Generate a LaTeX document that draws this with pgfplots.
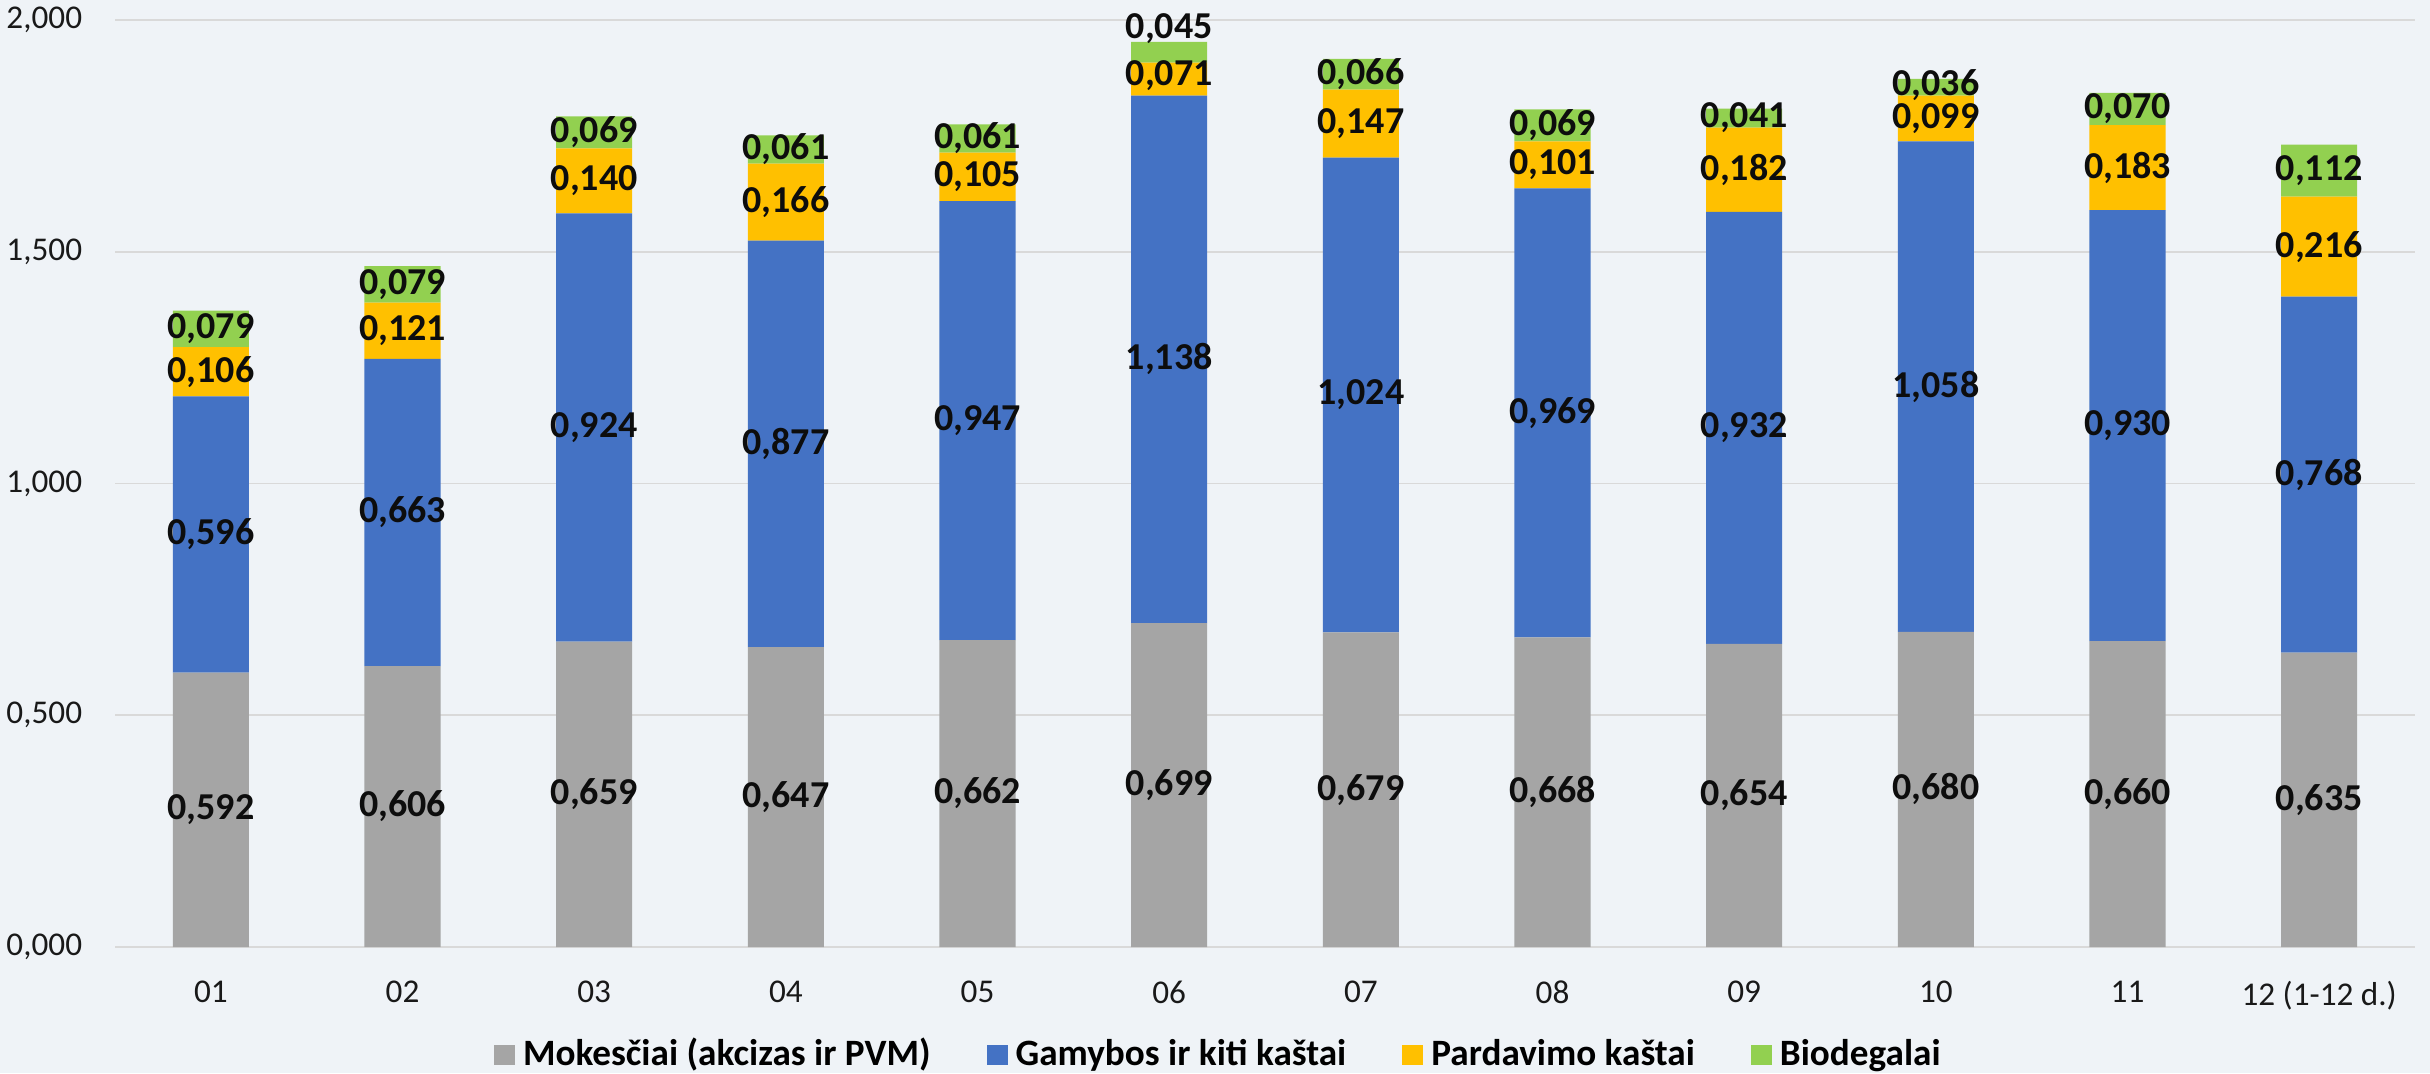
\documentclass[border=0pt]{standalone}
\usepackage{fontspec}
\setmainfont{Carlito}
\usepackage{pgfplots}
\usepackage{pgfplotstable}
\pgfplotsset{compat=1.18}
\definecolor{bg}{HTML}{EFF3F7}
\definecolor{cMok}{HTML}{A5A5A5}
\definecolor{cGam}{HTML}{4472C4}
\definecolor{cPar}{HTML}{FFC000}
\definecolor{cBio}{HTML}{92D050}
\definecolor{gridc}{HTML}{D9D9D9}

% kainos sudetis, men. 01-12; dyp/dyb = label nudges (axis units)
\pgfplotstableread{
x  mok   gam   par   bio   dyp   dyb
0  0.592 0.596 0.106 0.079 0     0
1  0.606 0.663 0.121 0.079 0     0
2  0.659 0.924 0.140 0.069 0     0
3  0.647 0.877 0.166 0.061 0     0
4  0.662 0.947 0.105 0.061 0     0
5  0.699 1.138 0.071 0.045 0.008 0.05
6  0.679 1.024 0.147 0.066 0     0
7  0.668 0.969 0.101 0.069 0     0
8  0.654 0.932 0.182 0.041 0     0
9  0.680 1.058 0.099 0.036 0     0.005
10 0.660 0.930 0.183 0.070 0     0
11 0.635 0.768 0.216 0.112 0     0
}\datatable

\begin{document}
\begin{tikzpicture}
\fill[bg] (0pt,0pt) rectangle (607.5pt,268.25pt);
\useasboundingbox (0pt,0pt) rectangle (607.5pt,268.25pt);
\begin{axis}[
  at={(28.75pt,31.5pt)}, anchor=south west,
  scale only axis, width=575pt, height=231.75pt,
  ybar stacked, bar width=0.397,
  xmin=-0.5, xmax=11.5, ymin=0, ymax=2,
  enlargelimits=false, clip=false,
  xtick={0,...,11},
  xticklabels={01,02,03,04,05,06,07,08,09,10,11,12 (1-12 d.)},
  ytick={0,0.5,1,1.5,2},
  ymajorgrids, grid style={gridc, line width=0.45pt},
  axis line style={draw=none}, major tick length=0pt,
  /pgf/number format/assume math mode=true,
  tick label style={font=\fontsize{8.3}{10}\selectfont, text=black!90},
  xticklabel style={yshift=-5pt},
  yticklabel style={xshift=-4.7pt, /pgf/number format/.cd, fixed, fixed zerofill, precision=3, use comma},
  point meta=explicit,
  nodes near coords={\pgfmathprintnumber[fixed,fixed zerofill,precision=3,use comma]{\pgfplotspointmeta}},
  nodes near coords style={font=\fontsize{9.5}{10}\selectfont\bfseries, text=black!95, anchor=center, inner sep=0pt},
  legend style={at={(0.481,-0.1165)}, anchor=center, legend columns=4, draw=none, fill=none,
    font=\fontsize{9.3}{11}\selectfont\bfseries,
    /tikz/every even column/.append style={column sep=12pt}},
  legend image code/.code={\fill[#1] (0pt,-2.6pt) rectangle (5.25pt,2.6pt);},
]
\addplot[fill=cMok, draw=none] table[x=x, y=mok, meta=mok]{\datatable};
\addplot[fill=cGam, draw=none] table[x=x, y=gam, meta=gam]{\datatable};
\addplot[fill=cPar, draw=none, visualization depends on={\thisrow{dyp} \as \dy},
  nodes near coords style={shift={(axis direction cs:0,\dy)}}] table[x=x, y=par, meta=par]{\datatable};
\addplot[fill=cBio, draw=none, visualization depends on={\thisrow{dyb} \as \dy},
  nodes near coords style={shift={(axis direction cs:0,\dy)}}] table[x=x, y=bio, meta=bio]{\datatable};
\legend{Mokesčiai (akcizas ir PVM), Gamybos ir kiti kaštai, Pardavimo kaštai, Biodegalai}
\end{axis}
\end{tikzpicture}
\end{document}
